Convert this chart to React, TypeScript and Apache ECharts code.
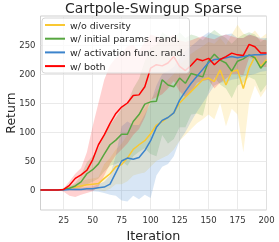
import React, { useEffect, useRef } from "react";
import * as echarts from "echarts";

const iterations = [5, 10, 15, 20, 25, 30, 35, 40, 45, 50, 55, 60, 65, 70, 75, 80, 85, 90, 95, 100, 105, 110, 115, 120, 125, 130, 135, 140, 145, 150, 155, 160, 165, 170, 175, 180, 185, 190, 195, 200];

const xTicks = [25, 50, 75, 100, 125, 150, 175, 200];
const yTicks = [0, 50, 100, 150, 200, 250];

const seriesNames = ["w/o diversity", "w/ initial params. rand.", "w/ activation func. rand.", "w/ both"];

// w/o diversity (yellow)
const noDiversity = [0, 0, 0, 0, 1, 3, 5, 7, 9, 10, 11, 20, 28, 40, 44, 55, 70, 78, 85, 97, 112, 118, 125, 133, 150, 160, 170, 180, 190, 193, 187, 207, 181, 204, 207, 175, 210, 230, 213, 225];
const noDiversityUpper = [0, 0, 0, 0, 2, 6, 10, 14, 18, 20, 22, 45, 55, 70, 80, 95, 115, 130, 140, 155, 170, 180, 190, 200, 215, 225, 235, 242, 248, 255, 252, 262, 250, 268, 285, 270, 265, 275, 262, 270];
const noDiversityLower = [0, 0, 0, 0, 0, 0, 0, 0, 0, 0, 0, -2, 2, 10, 10, 15, 25, 28, 30, 40, 50, 55, 60, 70, 85, 95, 105, 115, 122, 130, 122, 150, 110, 140, 130, 65, 150, 180, 160, 175];

// w/ initial params. rand. (green)
const initParams = [0, 0, 0, 0, 1, 3, 7, 14, 28, 35, 45, 62, 78, 86, 96, 96, 118, 130, 148, 152, 153, 190, 181, 178, 193, 184, 201, 198, 195, 222, 234, 224, 219, 205, 222, 226, 233, 228, 210, 222];
const initParamsUpper = [0, 0, 0, 1, 3, 6, 12, 25, 48, 58, 72, 95, 112, 125, 140, 150, 175, 192, 222, 245, 250, 272, 265, 262, 272, 262, 268, 265, 258, 268, 276, 268, 262, 252, 262, 268, 272, 268, 255, 262];
const initParamsLower = [0, 0, 0, 0, 0, 0, 2, 4, 10, 14, 20, 32, 42, 45, 50, 42, 58, 66, 72, 62, 58, 95, 80, 88, 108, 108, 130, 132, 128, 170, 195, 182, 175, 158, 180, 185, 195, 190, 168, 182];

// w/ activation func. rand. (blue)
const activation = [0, 0, 0, 0, 0, 1, 1, 1, 2, 2, 4, 5, 10, 30, 50, 55, 53, 56, 68, 85, 108, 120, 125, 133, 155, 170, 184, 196, 208, 220, 225, 226, 228, 230, 228, 230, 232, 233, 233, 234];
const activationUpper = [0, 0, 0, 0, 0, 2, 3, 4, 5, 6, 10, 14, 25, 60, 110, 118, 112, 112, 130, 150, 180, 200, 205, 212, 228, 240, 248, 256, 265, 272, 268, 265, 268, 270, 262, 262, 268, 265, 262, 262];
const activationLower = [0, 0, 0, 0, 0, 0, -1, -1, -1, -2, -3, -5, -8, -10, -18, -20, -10, -16, -8, -14, 25, 40, 45, 58, 85, 100, 118, 135, 150, 165, 180, 185, 186, 190, 192, 196, 198, 200, 204, 205];

// w/ both (red)
const both = [0, 0, 0, 0, 1, 8, 20, 26, 34, 52, 78, 95, 115, 132, 143, 150, 163, 164, 178, 210, 216, 214, 219, 230, 213, 206, 215, 226, 223, 227, 216, 225, 230, 236, 233, 232, 251, 247, 236, 236];
const bothUpper = [0, 0, 0, 0, 3, 15, 28, 38, 65, 110, 150, 190, 215, 228, 235, 248, 250, 240, 255, 268, 265, 260, 262, 268, 258, 255, 258, 262, 265, 262, 260, 265, 268, 265, 262, 262, 268, 265, 260, 258];
const bothLower = [0, 0, 0, 0, -3, -10, -12, -8, -5, -2, 5, 25, 45, 60, 70, 80, 95, 105, 125, 155, 160, 165, 175, 188, 170, 160, 168, 185, 188, 190, 175, 185, 192, 200, 200, 198, 228, 225, 212, 212];

const colors = ["#f9c832", "#57a640", "#3c84cc", "#ff0000"];
const bandFills = ["rgba(249,200,50,0.2)", "rgba(87,166,64,0.2)", "rgba(60,132,204,0.2)", "rgba(255,0,0,0.18)"];

const FONT = "DejaVu Sans";

function bandSeries(key: string, upper: number[], lower: number[], fill: string) {
  return {
    type: "custom",
    name: key,
    silent: true,
    clip: true,
    z: 1,
    data: [[iterations[0], upper[0]]],
    renderItem: (_params: any, api: any) => {
      const pts: number[][] = [];
      for (let i = 0; i < iterations.length; i++) pts.push(api.coord([iterations[i], upper[i]]));
      for (let i = iterations.length - 1; i >= 0; i--) pts.push(api.coord([iterations[i], lower[i]]));
      return { type: "polygon", shape: { points: pts }, style: { fill } };
    },
  };
}

function lineSeries(name: string, vals: number[], color: string) {
  return {
    type: "line",
    name,
    data: iterations.map((x, i) => [x, vals[i]]),
    symbol: "none",
    showSymbol: false,
    lineStyle: { width: 1.5, color },
    itemStyle: { color },
    z: 3,
    clip: true,
  };
}

export default function App() {
  const ref = useRef<HTMLDivElement>(null);
  useEffect(() => {
    if (!ref.current) return;
    const chart = echarts.init(ref.current, undefined, { renderer: "svg" });
    const mains = [noDiversity, initParams, activation, both];
    const uppers = [noDiversityUpper, initParamsUpper, activationUpper, bothUpper];
    const lowers = [noDiversityLower, initParamsLower, activationLower, bothLower];
    const series: any[] = [];
    for (let k = 0; k < 4; k++) series.push(bandSeries("band" + k, uppers[k], lowers[k], bandFills[k]));
    for (let k = 0; k < 4; k++) series.push(lineSeries(seriesNames[k], mains[k], colors[k]));
    chart.setOption({
      animation: false,
      textStyle: { fontFamily: FONT },
      title: {
        text: "Cartpole-Swingup Sparse",
        left: 153.5,
        top: 1,
        padding: 0,
        textAlign: "center",
        textStyle: { fontSize: 14, fontWeight: "normal", color: "#262626", fontFamily: FONT },
      },
      legend: {
        orient: "vertical",
        left: 42,
        top: 18,
        icon: "rect",
        itemWidth: 20,
        itemHeight: 2,
        itemGap: 3.7,
        padding: [2, 4, 2, 3],
        backgroundColor: "rgba(255,255,255,0.8)",
        borderColor: "#cccccc",
        borderWidth: 0.8,
        borderRadius: 3,
        textStyle: { fontSize: 9.5, lineHeight: 10, color: "#262626", fontFamily: FONT },
        data: seriesNames,
        z: 10,
      },
      graphic: [
        {
          type: "text",
          x: 10.5,
          y: 113,
          rotation: Math.PI / 2,
          style: {
            text: "Return",
            fontSize: 12.5,
            fontFamily: FONT,
            fill: "#262626",
            align: "center",
            verticalAlign: "middle",
          },
        },
      ],
      grid: {
        left: 40.5,
        top: 16,
        right: 12.5,
        bottom: 32,
        show: true,
        borderColor: "#cfcfcf",
        borderWidth: 1,
        backgroundColor: "transparent",
        containLabel: false,
        outerBoundsMode: "none",
      },
      xAxis: {
        type: "value",
        min: 5,
        max: 200,
        name: "Iteration",
        nameLocation: "middle",
        nameGap: 13,
        nameTextStyle: { fontSize: 12.7, color: "#262626", fontFamily: FONT },
        axisLine: { show: false },
        axisTick: { show: false, customValues: xTicks },
        axisLabel: { customValues: xTicks, fontSize: 8.5, color: "#333333", margin: 5, fontFamily: FONT },
        splitLine: { show: true, lineStyle: { color: "#e4e4e4", width: 0.8 } },
      },
      yAxis: {
        type: "value",
        min: -34.5,
        max: 300,
        axisLine: { show: false },
        axisTick: { show: false, customValues: yTicks },
        axisLabel: { customValues: yTicks, fontSize: 8.5, color: "#333333", margin: 5, fontFamily: FONT },
        splitLine: { show: true, lineStyle: { color: "#e4e4e4", width: 0.8 } },
      },
      series,
    });
    return () => chart.dispose();
  }, []);
  return <div ref={ref} style={{ position: "fixed", left: 0, top: 0, width: 279, height: 242 }} />;
}
